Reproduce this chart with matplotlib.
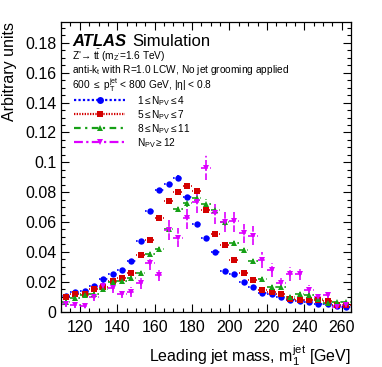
import matplotlib
matplotlib.use("Agg")
import matplotlib.pyplot as plt
from matplotlib.lines import Line2D
from matplotlib.ticker import MultipleLocator, FuncFormatter

plt.rcParams['font.family'] = ['Liberation Sans', 'DejaVu Sans']
plt.rcParams['mathtext.fontset'] = 'custom'
plt.rcParams['mathtext.rm'] = 'Liberation Sans'
plt.rcParams['mathtext.it'] = 'Liberation Sans:italic'
plt.rcParams['mathtext.bf'] = 'Liberation Sans:bold'

# ---------------- data ----------------
mass = [112.5, 117.5, 122.5, 127.5, 132.5, 137.5, 142.5, 147.5, 152.5, 157.5,
        162.5, 167.5, 172.5, 177.5, 182.5, 187.5, 192.5, 197.5, 202.5, 207.5,
        212.5, 217.5, 222.5, 227.5, 232.5, 237.5, 242.5, 247.5, 252.5, 257.5, 262.5]

npv_1_4 = [0.0104, 0.0131, 0.0140, 0.0171, 0.0220, 0.0252, 0.0276, 0.0339, 0.0475, 0.0674,
           0.0817, 0.0857, 0.0897, 0.0770, 0.0589, 0.0495, 0.0397, 0.0270, 0.0249, 0.0198,
           0.0162, 0.0127, 0.0115, 0.0095, 0.0077, 0.0070, 0.0062, 0.0050, 0.0048, 0.0036, 0.0033]
npv_1_4_err = [0.0006, 0.0006, 0.0007, 0.0007, 0.0008, 0.0008, 0.0009, 0.0009, 0.0011, 0.0013,
               0.0014, 0.0014, 0.0015, 0.0014, 0.0012, 0.0011, 0.0010, 0.0009, 0.0008, 0.0007,
               0.0007, 0.0006, 0.0006, 0.0005, 0.0005, 0.0004, 0.0004, 0.0004, 0.0004, 0.0003, 0.0003]

npv_5_7 = [0.0095, 0.0119, 0.0119, 0.0149, 0.0166, 0.0207, 0.0225, 0.0260, 0.0381, 0.0481,
           0.0627, 0.0741, 0.0799, 0.0844, 0.0808, 0.0683, 0.0520, 0.0446, 0.0347, 0.0258,
           0.0211, 0.0144, 0.0130, 0.0115, 0.0084, 0.0080, 0.0076, 0.0078, 0.0074, 0.0042, 0.0042]
npv_5_7_err = [0.0007, 0.0008, 0.0008, 0.0009, 0.0009, 0.0010, 0.0011, 0.0011, 0.0014, 0.0015,
               0.0018, 0.0019, 0.0020, 0.0020, 0.0020, 0.0018, 0.0016, 0.0015, 0.0013, 0.0011,
               0.0010, 0.0009, 0.0008, 0.0008, 0.0007, 0.0007, 0.0006, 0.0006, 0.0006, 0.0005, 0.0005]

npv_8_11 = [0.0066, 0.0090, 0.0108, 0.0120, 0.0149, 0.0195, 0.0207, 0.0226, 0.0257, 0.0388,
            0.0421, 0.0555, 0.0690, 0.0728, 0.0760, 0.0724, 0.0680, 0.0600, 0.0458, 0.0411,
            0.0340, 0.0220, 0.0165, 0.0166, 0.0101, 0.0119, 0.0112, 0.0082, 0.0055, 0.0066, 0.0066]
npv_8_11_err = [0.0009, 0.0010, 0.0011, 0.0012, 0.0013, 0.0014, 0.0015, 0.0015, 0.0016, 0.0020,
                0.0021, 0.0024, 0.0026, 0.0027, 0.0028, 0.0027, 0.0026, 0.0025, 0.0021, 0.0020,
                0.0018, 0.0015, 0.0013, 0.0013, 0.0010, 0.0011, 0.0011, 0.0009, 0.0008, 0.0008, 0.0008]

npv_12 = [0.0048, 0.0044, 0.0039, 0.0099, 0.0171, 0.0160, 0.0119, 0.0134, 0.0190, 0.0327,
          0.0248, 0.0548, 0.0495, 0.0625, 0.0734, 0.0965, 0.0662, 0.0600, 0.0604, 0.0526,
          0.0508, 0.0344, 0.0279, 0.0190, 0.0253, 0.0255, 0.0145, 0.0099, 0.0109, 0.0034, 0.0046]
npv_12_err = [0.0020, 0.0019, 0.0018, 0.0028, 0.0037, 0.0035, 0.0031, 0.0033, 0.0039, 0.0051,
              0.0044, 0.0066, 0.0062, 0.0070, 0.0076, 0.0085, 0.0072, 0.0069, 0.0069, 0.0064,
              0.0063, 0.0052, 0.0047, 0.0039, 0.0045, 0.0045, 0.0034, 0.0028, 0.0029, 0.0016, 0.0019]

bin_half_width = 2.5

labels = [r'1$\leq$N$_{\rm PV}$$\leq$4', r'5$\leq$N$_{\rm PV}$$\leq$7',
          r'8$\leq$N$_{\rm PV}$$\leq$11', r'N$_{\rm PV}$$\geq$12']

# ---------------- styling ----------------
series = [
    (npv_1_4, npv_1_4_err, '#0000ff', 'o', (0, (1, 1))),
    (npv_5_7, npv_5_7_err, '#d40000', 's', (0, (0.6, 0.6))),
    (npv_8_11, npv_8_11_err, '#16a016', '^', (0, (3, 2, 1, 2))),
    (npv_12, npv_12_err, '#dd00ff', 'v', (0, (4, 1.5, 1, 1.5))),
]

fig = plt.figure(figsize=(3.82, 3.67), dpi=100)
ax = fig.add_axes([0.160, 0.151, 0.759, 0.789])

handles = []
for (vals, errs, col, mk, ls), lab in zip(series, labels):
    pl, caps, bars = ax.errorbar(mass, vals, xerr=bin_half_width, yerr=errs, fmt=mk,
                                 color=col, ms=4.6, mew=0, elinewidth=1.2, capsize=0)
    for b in bars:
        b.set_linestyle(ls)
    handles.append(Line2D([], [], color=col, marker=mk, ms=5, mew=0, lw=1.6, linestyle=ls))

ax.set_xlim(110, 265)
ax.set_ylim(0, 0.194)

ax.xaxis.set_major_locator(MultipleLocator(20))
ax.xaxis.set_minor_locator(MultipleLocator(5))
ax.yaxis.set_major_locator(MultipleLocator(0.02))
ax.yaxis.set_minor_locator(MultipleLocator(0.005))
ax.yaxis.set_major_formatter(FuncFormatter(lambda v, p: '0' if abs(v) < 1e-9 else ('%g' % round(v, 3))))

ax.tick_params(which='both', direction='in', top=True, right=True, labelsize=11.5, width=0.8)
ax.tick_params(which='major', length=6)
ax.tick_params(which='minor', length=3)
ax.tick_params(axis='x', pad=6)
for s in ax.spines.values():
    s.set_linewidth(0.9)

ax.set_ylabel('Arbitrary units', fontsize=11.5, loc='top', labelpad=6)
ax.set_xlabel(r'Leading jet mass, m$_{1}^{\rm jet}$ [GeV]', fontsize=11.5, loc='right', labelpad=6)

# annotations
ax.text(0.040, 0.917, 'ATLAS', transform=ax.transAxes, fontsize=12, fontweight='bold',
        fontstyle='italic', va='baseline', ha='left')
ax.text(0.247, 0.917, 'Simulation', transform=ax.transAxes, fontsize=12, va='baseline', ha='left')
ax.text(0.039, 0.881, "Z'→ t" + r"$\bar{\mathrm{t}}$" + r" (m$_{\rm Z'}$=1.6 TeV)", transform=ax.transAxes,
        fontsize=7.3, va='center', ha='left')
ax.text(0.039, 0.833, r'anti-k$_{\rm t}$ with R=1.0 LCW, No jet grooming applied', transform=ax.transAxes,
        fontsize=7.3, va='center', ha='left')
ax.text(0.039, 0.782, r'600 $\leq$ p$_{\rm T}^{\rm jet}$ < 800 GeV, |η| < 0.8', transform=ax.transAxes,
        fontsize=7.3, va='center', ha='left')

leg = ax.legend(handles, labels, loc='upper left', bbox_to_anchor=(0.045, 0.752), frameon=False,
                fontsize=7.3, numpoints=1, handlelength=5.0, handletextpad=1.2,
                labelspacing=0.02, borderpad=0, borderaxespad=0)

fig.savefig('out.png', dpi=100)
